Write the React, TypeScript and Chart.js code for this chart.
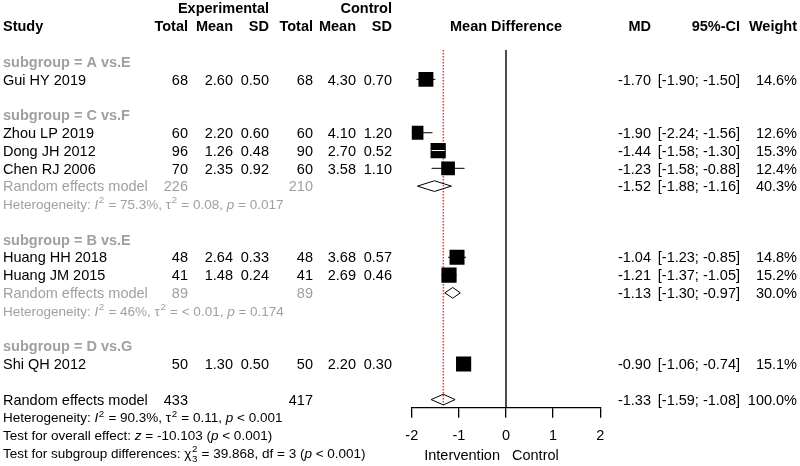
import React, { useEffect, useRef } from 'react';
import { Chart, registerables } from 'chart.js';

Chart.register(...registerables);

// ---------------- data ----------------
const studies = ['Gui HY 2019', 'Zhou LP 2019', 'Dong JH 2012', 'Chen RJ 2006', 'Huang HH 2018', 'Huang JM 2015', 'Shi QH 2012'];
const studyRows = [3, 6, 7, 8, 13, 14, 19];
const expTotal = [68, 60, 96, 70, 48, 41, 50];
const expMean = ['2.60', '2.20', '1.26', '2.35', '2.64', '1.48', '1.30'];
const expSD = ['0.50', '0.60', '0.48', '0.92', '0.33', '0.24', '0.50'];
const ctrlTotal = [68, 60, 90, 60, 48, 41, 50];
const ctrlMean = ['4.30', '4.10', '2.70', '3.58', '3.68', '2.69', '2.20'];
const ctrlSD = ['0.70', '1.20', '0.52', '1.10', '0.57', '0.46', '0.30'];
const md = [-1.70, -1.90, -1.44, -1.23, -1.04, -1.21, -0.90];
const ciLower = [-1.90, -2.24, -1.58, -1.58, -1.23, -1.37, -1.06];
const ciUpper = [-1.50, -1.56, -1.30, -0.88, -0.85, -1.05, -0.74];
const weights = [14.6, 12.6, 15.3, 12.4, 14.8, 15.2, 15.1];

const subgroupLabels = ['subgroup = A vs.E', 'subgroup = C vs.F', 'subgroup = B vs.E', 'subgroup = D vs.G'];
const subgroupRows = [2, 5, 12, 18];

// pooled subgroup results (C vs.F, B vs.E)
const pooledRows = [9, 15];
const pooledExpN = [226, 89];
const pooledCtrlN = [210, 89];
const pooledMd = [-1.52, -1.13];
const pooledLower = [-1.88, -1.30];
const pooledUpper = [-1.16, -0.97];
const pooledWeight = [40.3, 30.0];
const pooledHetI2 = ['75.3%', '46%'];
const pooledHetTau2 = ['0.08', '< 0.01'];
const pooledHetP = ['= 0.017', '= 0.174'];

// overall
const overallRow = 21;
const overallExpN = 433;
const overallCtrlN = 417;
const overallMd = -1.33;
const overallLower = -1.59;
const overallUpper = -1.08;
const overallWeight = 100.0;
const overallHetI2 = '90.3%';
const overallHetTau2 = '0.11';
const overallHetP = '< 0.001';
const overallZ = '-10.103';
const overallZP = '< 0.001';
const subgroupChi2 = '39.868';
const subgroupDf = '3';
const subgroupP = '< 0.001';

const xTicks = [-2, -1, 0, 1, 2];

// ---------------- layout constants ----------------
const FONT = '"Liberation Sans", Arial, Helvetica, sans-serif';
const FS = 14.5;
const FS_SMALL = 13.5;
const GRAY = '#a0a0a0';
const ROW_H = 17.79;
const ROW0_PX = 26;
const AXIS_PX = 407.7;
const Y_MIN = -ROW0_PX / ROW_H;
const Y_MAX = (AXIS_PX - ROW0_PX) / ROW_H;
const LINE_TOP_ROW = 1.35;
const DIAMOND_H = 0.3;

type Run = { t: string; i?: boolean; sup?: string; sub?: string };

function font(size: number, bold = false, italic = false) {
  return `${italic ? 'italic ' : ''}${bold ? 'bold ' : ''}${size}px ${FONT}`;
}

function drawText(ctx: CanvasRenderingContext2D, t: string, x: number, y: number, align: CanvasTextAlign, size = FS, bold = false, color = '#000') {
  ctx.font = font(size, bold);
  ctx.fillStyle = color;
  ctx.textAlign = align;
  ctx.textBaseline = 'alphabetic';
  ctx.fillText(t, x, y + size * 0.36);
}

function drawRuns(ctx: CanvasRenderingContext2D, runs: Run[], x: number, y: number, size: number, color: string) {
  let cx = x;
  const base = y + size * 0.36;
  ctx.textAlign = 'left';
  ctx.textBaseline = 'alphabetic';
  ctx.fillStyle = color;
  for (const r of runs) {
    ctx.font = font(size, false, !!r.i);
    ctx.fillText(r.t, cx, base);
    cx += ctx.measureText(r.t).width;
    if (r.sup || r.sub) {
      const s = size * 0.72;
      ctx.font = font(s);
      let w = 0;
      if (r.sup) {
        ctx.fillText(r.sup, cx + 0.5, base - size * 0.42);
        w = Math.max(w, ctx.measureText(r.sup).width);
      }
      if (r.sub) {
        ctx.fillText(r.sub, cx + 0.5, base + size * 0.28);
        w = Math.max(w, ctx.measureText(r.sub).width);
      }
      cx += w + 1;
    }
  }
}

function hetRuns(i2: string, tau2: string, p: string): Run[] {
  return [
    { t: 'Heterogeneity: ' },
    { t: 'I', i: true, sup: '2' },
    { t: ' = ' + i2 + ', \u03c4', sup: '2' },
    { t: ' = ' + tau2 + ', ' },
    { t: 'p', i: true },
    { t: ' ' + p },
  ];
}

const fmtCI = (lo: number, hi: number) => `[${lo.toFixed(2)}; ${hi.toFixed(2)}]`;
const squareSide = (w: number) => 3.9 * Math.sqrt(w);

// column right edges
const COL = {
  study: 3,
  eTotal: 188,
  eMean: 233,
  eSD: 269,
  cTotal: 313,
  cMean: 356,
  cSD: 392,
  md: 651,
  ci: 740,
  w: 797,
};

const textPlugin = {
  id: 'forestText',
  afterDatasetsDraw(chart: any) {
    const ctx: CanvasRenderingContext2D = chart.ctx;
    const xs = chart.scales.x;
    const ys = chart.scales.y;
    ctx.save();
    studies.forEach((_, i) => {
      const y = ys.getPixelForValue(studyRows[i]);
      const lo = xs.getPixelForValue(ciLower[i]);
      const hi = xs.getPixelForValue(ciUpper[i]);
      // CI fully inside the square: draw it in white
      if (hi - lo < squareSide(weights[i]) - 1.5) {
        ctx.strokeStyle = '#fff';
        ctx.lineWidth = 1;
        ctx.beginPath();
        ctx.moveTo(lo, y);
        ctx.lineTo(hi, y);
        ctx.stroke();
      }
    });
    ctx.restore();
  },
  afterDraw(chart: any) {
    const ctx: CanvasRenderingContext2D = chart.ctx;
    const xs = chart.scales.x;
    const ys = chart.scales.y;
    const Y = (r: number) => ys.getPixelForValue(r);
    ctx.save();

    // headers
    drawText(ctx, 'Experimental', COL.eSD, Y(-1), 'right', FS, true);
    drawText(ctx, 'Control', COL.cSD, Y(-1), 'right', FS, true);
    drawText(ctx, 'Study', COL.study, Y(0), 'left', FS, true);
    drawText(ctx, 'Total', COL.eTotal, Y(0), 'right', FS, true);
    drawText(ctx, 'Mean', COL.eMean, Y(0), 'right', FS, true);
    drawText(ctx, 'SD', COL.eSD, Y(0), 'right', FS, true);
    drawText(ctx, 'Total', COL.cTotal, Y(0), 'right', FS, true);
    drawText(ctx, 'Mean', COL.cMean, Y(0), 'right', FS, true);
    drawText(ctx, 'SD', COL.cSD, Y(0), 'right', FS, true);
    drawText(ctx, 'Mean Difference', xs.getPixelForValue(0), Y(0), 'center', FS, true);
    drawText(ctx, 'MD', COL.md, Y(0), 'right', FS, true);
    drawText(ctx, '95%-CI', COL.ci, Y(0), 'right', FS, true);
    drawText(ctx, 'Weight', COL.w, Y(0), 'right', FS, true);

    subgroupLabels.forEach((s, i) => drawText(ctx, s, COL.study, Y(subgroupRows[i]), 'left', FS, true, GRAY));

    studies.forEach((s, i) => {
      const y = Y(studyRows[i]);
      drawText(ctx, s, COL.study, y, 'left');
      drawText(ctx, String(expTotal[i]), COL.eTotal, y, 'right');
      drawText(ctx, expMean[i], COL.eMean, y, 'right');
      drawText(ctx, expSD[i], COL.eSD, y, 'right');
      drawText(ctx, String(ctrlTotal[i]), COL.cTotal, y, 'right');
      drawText(ctx, ctrlMean[i], COL.cMean, y, 'right');
      drawText(ctx, ctrlSD[i], COL.cSD, y, 'right');
      drawText(ctx, md[i].toFixed(2), COL.md, y, 'right');
      drawText(ctx, fmtCI(ciLower[i], ciUpper[i]), COL.ci, y, 'right');
      drawText(ctx, weights[i].toFixed(1) + '%', COL.w, y, 'right');
    });

    pooledRows.forEach((r, i) => {
      const y = Y(r);
      drawText(ctx, 'Random effects model', COL.study, y, 'left', FS, false, GRAY);
      drawText(ctx, String(pooledExpN[i]), COL.eTotal, y, 'right', FS, false, GRAY);
      drawText(ctx, String(pooledCtrlN[i]), COL.cTotal, y, 'right', FS, false, GRAY);
      drawText(ctx, pooledMd[i].toFixed(2), COL.md, y, 'right');
      drawText(ctx, fmtCI(pooledLower[i], pooledUpper[i]), COL.ci, y, 'right');
      drawText(ctx, pooledWeight[i].toFixed(1) + '%', COL.w, y, 'right');
      drawRuns(ctx, hetRuns(pooledHetI2[i], pooledHetTau2[i], pooledHetP[i]), COL.study, Y(r + 1), FS_SMALL, GRAY);
    });

    const yo = Y(overallRow);
    drawText(ctx, 'Random effects model', COL.study, yo, 'left');
    drawText(ctx, String(overallExpN), COL.eTotal, yo, 'right');
    drawText(ctx, String(overallCtrlN), COL.cTotal, yo, 'right');
    drawText(ctx, overallMd.toFixed(2), COL.md, yo, 'right');
    drawText(ctx, fmtCI(overallLower, overallUpper), COL.ci, yo, 'right');
    drawText(ctx, overallWeight.toFixed(1) + '%', COL.w, yo, 'right');
    drawRuns(ctx, hetRuns(overallHetI2, overallHetTau2, overallHetP), COL.study, Y(overallRow + 1), FS_SMALL, '#000');
    drawRuns(ctx, [
      { t: 'Test for overall effect: ' },
      { t: 'z', i: true },
      { t: ' = ' + overallZ + ' (' },
      { t: 'p', i: true },
      { t: ' ' + overallZP + ')' },
    ], COL.study, Y(overallRow + 2), FS_SMALL, '#000');
    drawRuns(ctx, [
      { t: 'Test for subgroup differences: ' },
      { t: '\u03c7', sup: '2', sub: subgroupDf },
      { t: ' = ' + subgroupChi2 + ', df = ' + subgroupDf + ' (' },
      { t: 'p', i: true },
      { t: ' ' + subgroupP + ')' },
    ], COL.study, Y(overallRow + 3), FS_SMALL, '#000');

    // axis side labels
    const x0 = xs.getPixelForValue(0);
    const yl = xs.top + 47.5;
    drawText(ctx, 'Intervention', x0 - 6, yl, 'right', FS);
    drawText(ctx, 'Control', x0 + 6, yl, 'left', FS);

    ctx.restore();
  },
};

export default function App() {
  const ref = useRef<HTMLCanvasElement>(null);
  useEffect(() => {
    document.body.style.margin = '0';
    const canvas = ref.current!;
    const datasets: any[] = [];

    datasets.push({
      data: [{ x: 0, y: LINE_TOP_ROW }, { x: 0, y: Y_MAX }],
      showLine: true, borderColor: '#111', borderWidth: 1.5, pointRadius: 0, order: 6,
    });
    datasets.push({
      data: [{ x: overallMd, y: LINE_TOP_ROW }, { x: overallMd, y: overallRow + 0.3 }],
      showLine: true, borderColor: 'rgb(240,50,50)', borderWidth: 1.5, borderDash: [1.5, 1.5], pointRadius: 0, order: 5,
    });
    studies.forEach((_, i) => {
      datasets.push({
        data: [{ x: ciLower[i], y: studyRows[i] }, { x: ciUpper[i], y: studyRows[i] }],
        showLine: true, borderColor: '#000', borderWidth: 1, pointRadius: 0, order: 4,
      });
    });
    datasets.push({
      data: studies.map((_, i) => ({ x: md[i], y: studyRows[i] })),
      pointStyle: 'rect',
      pointRadius: weights.map((w) => squareSide(w) / Math.SQRT2),
      backgroundColor: '#000', borderColor: '#000', borderWidth: 0, order: 3,
    });
    const diamond = (m: number, lo: number, hi: number, r: number) => [
      { x: lo, y: r }, { x: m, y: r - DIAMOND_H }, { x: hi, y: r }, { x: m, y: r + DIAMOND_H }, { x: lo, y: r },
    ];
    pooledRows.forEach((r, i) => {
      datasets.push({
        data: diamond(pooledMd[i], pooledLower[i], pooledUpper[i], r),
        showLine: true, borderColor: '#000', borderWidth: 1, pointRadius: 0, fill: false, order: 2,
      });
    });
    datasets.push({
      data: diamond(overallMd, overallLower, overallUpper, overallRow),
      showLine: true, borderColor: '#000', borderWidth: 1, pointRadius: 0, fill: false, order: 2,
    });

    const chart = new Chart(canvas, {
      type: 'scatter',
      data: { datasets },
      options: {
        animation: false,
        responsive: false,
        events: [],
        devicePixelRatio: 1,
        layout: { autoPadding: false, padding: { left: 411.8, right: 199.8, top: 0, bottom: 10.9 } },
        plugins: { legend: { display: false }, tooltip: { enabled: false } },
        scales: {
          x: {
            type: 'linear', min: -2, max: 2, position: 'bottom',
            afterBuildTicks: (scale: any) => { scale.ticks = xTicks.map((v) => ({ value: v })); },
            ticks: { color: '#000', font: { family: FONT, size: FS }, padding: 10, maxRotation: 0, autoSkip: false },
            grid: { drawOnChartArea: false, drawTicks: true, tickLength: 10, color: '#000', lineWidth: 1.3 },
            border: { display: true, color: '#000', width: 1.3 },
          },
          y: { type: 'linear', display: false, reverse: true, min: Y_MIN, max: Y_MAX },
        },
      },
      plugins: [textPlugin],
    } as any);
    return () => chart.destroy();
  }, []);
  return (
    <div style={{ width: 800, height: 466, background: '#fff' }}>
      <canvas ref={ref} width={800} height={466} style={{ display: 'block' }} />
    </div>
  );
}
